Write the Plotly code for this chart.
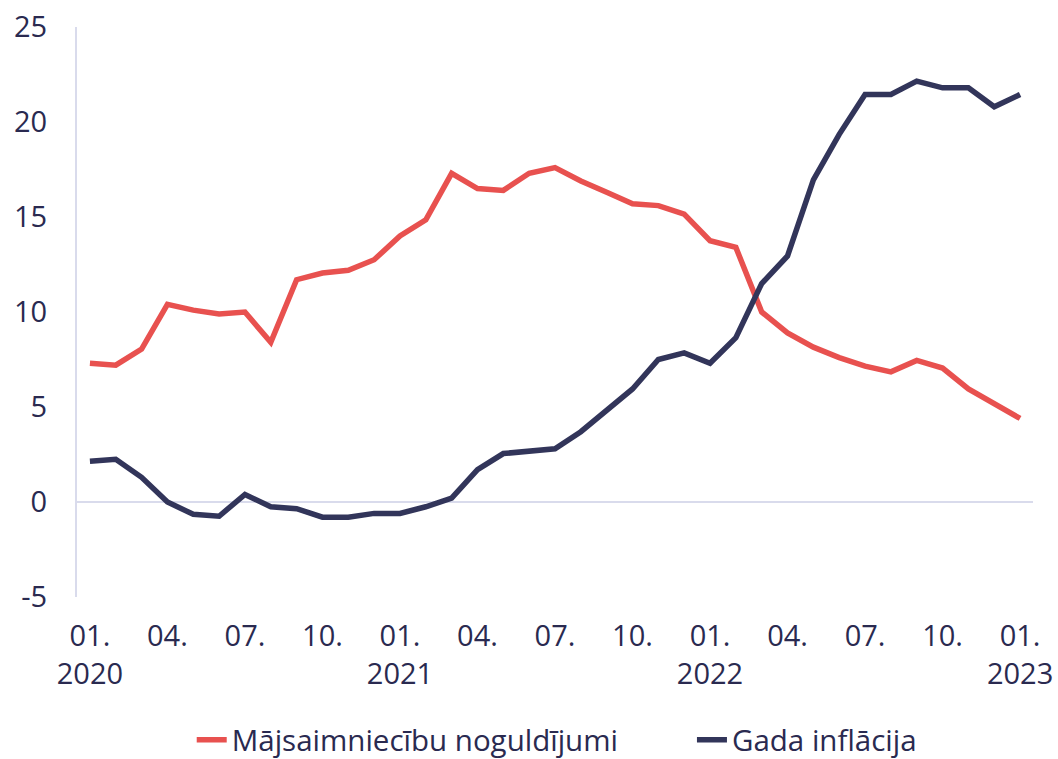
import plotly.graph_objects as go

months = [f"{y}-{m:02d}" for y in (2020, 2021, 2022) for m in range(1, 13)] + ["2023-01"]

deposits = [7.3, 7.2, 8.05, 10.4, 10.1, 9.9, 10.0, 8.4, 11.7, 12.05, 12.2, 12.75,
            14.0, 14.85, 17.3, 16.5, 16.4, 17.3, 17.6, 16.9, 16.3, 15.7, 15.6, 15.15,
            13.75, 13.4, 10.0, 8.9, 8.15, 7.6, 7.15, 6.85, 7.45, 7.05, 5.95, 5.2, 4.4]

inflation = [2.15, 2.25, 1.3, 0.0, -0.65, -0.75, 0.4, -0.25, -0.35, -0.8, -0.8, -0.6,
             -0.6, -0.25, 0.2, 1.7, 2.55, 2.65, 2.8, 3.7, 4.85, 5.95, 7.5, 7.85,
             7.3, 8.65, 11.5, 12.95, 16.95, 19.35, 21.45, 21.45, 22.15, 21.8, 21.8, 20.8, 21.45]

tick_months = ["2020-01", "2020-04", "2020-07", "2020-10",
               "2021-01", "2021-04", "2021-07", "2021-10",
               "2022-01", "2022-04", "2022-07", "2022-10", "2023-01"]
tick_text = ["01.<br>2020", "04.", "07.", "10.",
             "01.<br>2021", "04.", "07.", "10.",
             "01.<br>2022", "04.", "07.", "10.", "01.<br>2023"]

y_ticks = [-5, 0, 5, 10, 15, 20, 25]
y_tick_text = ["-5", "0", "5", "10", "15", "20", "25"]

series_names = ["Mājsaimniecību noguldījumi", "Gada inflācija"]

RED = "#E8514F"
NAVY = "#32355A"
TEXT = "#2A2A50"
GRID = "#D9DBEC"
FONT = "Open Sans"
PAD = "\u00a0" * 9  # spacing between legend entries

fig = go.Figure()
fig.add_trace(go.Scatter(x=months, y=deposits, mode="lines", name=series_names[0] + PAD,
                         hovertemplate="%{y}<extra>" + series_names[0] + "</extra>",
                         line=dict(color=RED, width=5.5)))
fig.add_trace(go.Scatter(x=months, y=inflation, mode="lines", name=series_names[1],
                         hovertemplate="%{y}<extra>" + series_names[1] + "</extra>",
                         line=dict(color=NAVY, width=5.5)))

fig.update_layout(
    width=1058, height=759,
    margin=dict(l=77, r=25, t=27, b=162, autoexpand=False),
    paper_bgcolor="white", plot_bgcolor="white",
    font=dict(family=FONT, size=29, color=TEXT),
    showlegend=True,
    legend=dict(orientation="h", x=0.12, xanchor="left", y=-0.251, yanchor="middle",
                font=dict(size=29.5, color=TEXT), itemwidth=30, traceorder="normal"),
)
fig.update_xaxes(type="category", categoryorder="array", categoryarray=months,
                 range=[-0.5, 36.5], tickmode="array", tickvals=tick_months, ticktext=tick_text,
                 showgrid=False, zeroline=False, showline=False, ticks="", automargin=False,
                 ticklabelstandoff=19, tickfont=dict(size=29, color=TEXT))
fig.update_yaxes(range=[-5, 25], tickmode="array", tickvals=y_ticks, ticktext=y_tick_text,
                 showgrid=False, zeroline=True, zerolinecolor=GRID, zerolinewidth=2,
                 showline=True, linecolor=GRID, linewidth=2, ticks="", automargin=False,
                 ticklabelstandoff=22, tickfont=dict(size=29, color=TEXT))

fig.write_html("out.html", config={"displayModeBar": False},
               post_script="document.body.style.margin='0';")
